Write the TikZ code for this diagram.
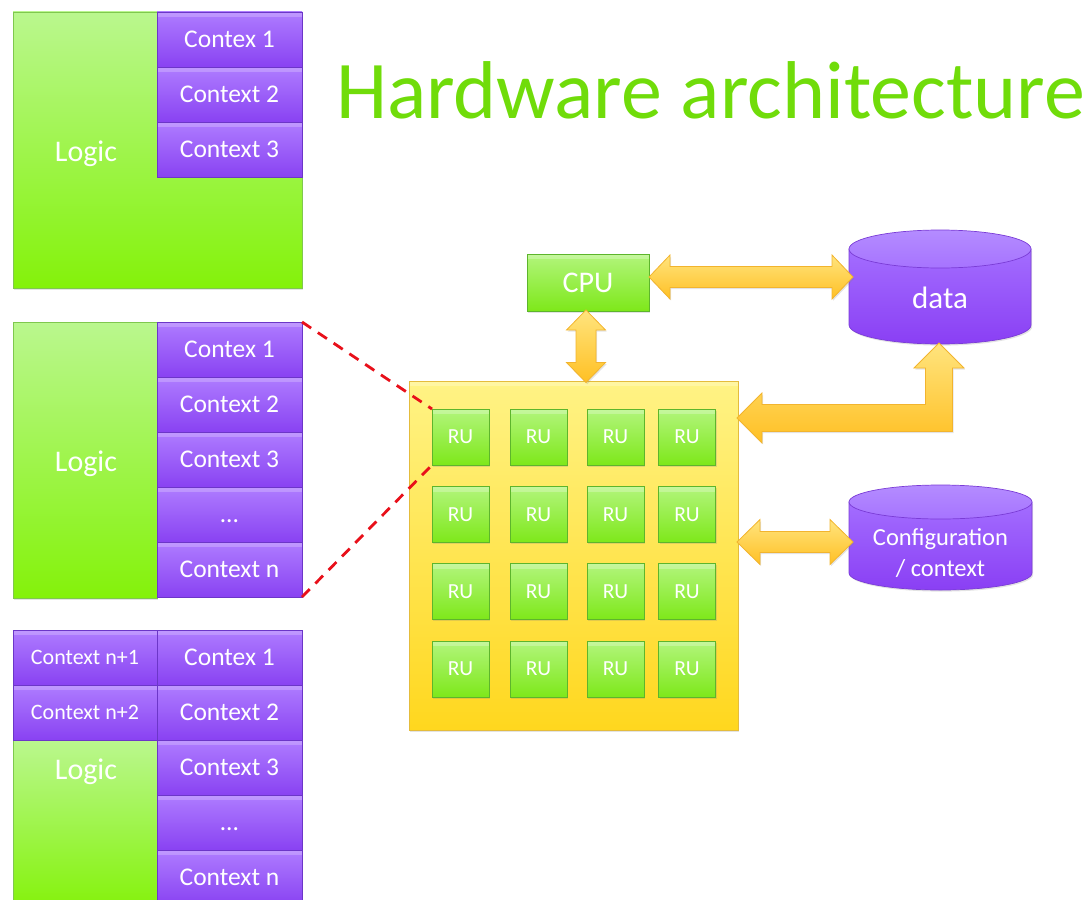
\documentclass[tikz,border=0pt]{standalone}
\usepackage{fontspec}
\setmainfont{Carlito}
\usetikzlibrary{calc,shadows}

\definecolor{grnTop}{HTML}{BAF78E}
\definecolor{grnBot}{HTML}{84F20A}
\definecolor{grnLine}{HTML}{7FC84E}
\definecolor{ruTop}{HTML}{B2F57C}
\definecolor{ruBot}{HTML}{7EE81A}
\definecolor{ruLine}{HTML}{5DB52C}
\definecolor{purTop}{HTML}{AE7CFF}
\definecolor{purBot}{HTML}{8942F2}
\definecolor{purLine}{HTML}{6C36C8}
\definecolor{yelTop}{HTML}{FFF385}
\definecolor{yelBot}{HTML}{FFD71E}
\definecolor{yelLine}{HTML}{E4BC3C}
\definecolor{arrTop}{HTML}{FFE47E}
\definecolor{arrBot}{HTML}{FFC024}
\definecolor{arrLine}{HTML}{F2B42E}
\definecolor{cylTop}{HTML}{A36DFF}
\definecolor{cylBot}{HTML}{8A3FF4}
\definecolor{cylCap}{HTML}{B48CFF}
\definecolor{cylLine}{HTML}{7A3CD6}
\definecolor{titleGreen}{HTML}{70DC0A}
\definecolor{zoomRed}{HTML}{E8101A}

% cylinder body and cap: centre x, cap-centre y, base-centre y, x radius, y radius
\newcommand{\drumshape}[5]{%
  \path[cylbody] ({#1-#4},#2) -- ({#1-#4},#3)
    .. controls ({#1-#4},{#3+0.5523*#5}) and ({#1-0.5523*#4},{#3+#5}) .. (#1,{#3+#5})
    .. controls ({#1+0.5523*#4},{#3+#5}) and ({#1+#4},{#3+0.5523*#5}) .. ({#1+#4},#3)
    -- ({#1+#4},#2) -- cycle;
  \path[cylcap] (#1,#2) ellipse (#4pt and #5pt);}

% horizontal double block arrow: left tip, right tip, head length, half head, half shaft
\newcommand{\fatharrow}[5]{%
  \draw[fatarrow] (#1) -- ($(#1)+(#3,-#4)$) -- ($(#1)+(#3,-#5)$) -- ($(#2)+(-#3,-#5)$)
    -- ($(#2)+(-#3,-#4)$) -- (#2) -- ($(#2)+(-#3,#4)$) -- ($(#2)+(-#3,#5)$)
    -- ($(#1)+(#3,#5)$) -- ($(#1)+(#3,#4)$) -- cycle;}

% vertical double block arrow: top tip, bottom tip, head length, half head, half shaft
\newcommand{\fatvarrow}[5]{%
  \draw[fatarrow] (#1) -- ($(#1)+(#4,#3)$) -- ($(#1)+(#5,#3)$) -- ($(#2)+(#5,-#3)$)
    -- ($(#2)+(#4,-#3)$) -- (#2) -- ($(#2)+(-#4,-#3)$) -- ($(#2)+(-#5,-#3)$)
    -- ($(#1)+(-#5,#3)$) -- ($(#1)+(-#4,#3)$) -- cycle;}

\begin{document}
\begin{tikzpicture}[x=1pt,y=-1pt,
  softshadow/.style={drop shadow={opacity=0.22,shadow xshift=1.2pt,shadow yshift=-1.6pt}},
  bevel/.style={path picture={\fill[white,opacity=#1]
      (path picture bounding box.north west) rectangle ([yshift=-5pt]path picture bounding box.north east);}},
  bevel/.default=0.22,
  plain/.style={inner sep=0pt,outer sep=0pt,text=white},
  ctxbox/.style={plain,rectangle,minimum width=145pt,minimum height=55pt,
    top color=purTop,bottom color=purBot,draw=purLine,line width=0.6pt,bevel,
    font=\fontsize{25.5}{30}\selectfont,text height=16pt,text depth=0pt},
  ctxsmall/.style={ctxbox,minimum width=144pt,font=\fontsize{22}{26}\selectfont,text height=14pt},
  logicbox/.style={plain,rectangle,top color=grnTop,bottom color=grnBot,draw=grnLine,
    line width=0.6pt,softshadow},
  logictext/.style={plain,anchor=base,font=\fontsize{30}{36}\selectfont},
  rubox/.style={plain,rectangle,minimum width=57pt,minimum height=56pt,
    top color=ruTop,bottom color=ruBot,draw=ruLine,line width=0.6pt,bevel=0.25,softshadow,
    font=\fontsize{21.5}{25}\selectfont,text height=13.8pt,text depth=0pt},
  cpubox/.style={rubox,minimum width=122pt,minimum height=57pt,
    font=\fontsize{30}{36}\selectfont,text height=19.3pt},
  arraybox/.style={plain,rectangle,top color=yelTop,bottom color=yelBot,draw=yelLine,
    line width=0.8pt,softshadow,bevel=0.25},
  hitbox/.style={inner sep=0pt,outer sep=0pt},
  cylbody/.style={top color=cylTop,bottom color=cylBot,draw=cylLine,line width=0.7pt,softshadow},
  cylcap/.style={top color=cylCap,bottom color=cylTop!80!cylCap,draw=cylLine,line width=0.7pt},
  cyltext/.style={plain,anchor=base},
  fatarrow/.style={top color=arrTop,bottom color=arrBot,draw=arrLine,line width=0.8pt,
    line join=miter,softshadow},
  zoomline/.style={draw=zoomRed,line width=2.8pt,dash pattern=on 11pt off 8pt}]

\useasboundingbox (0,0) rectangle (1091,899);
\clip (0,0) rectangle (1091,899);

% ---- title
\node[plain,anchor=base west,text=titleGreen,font=\fontsize{82}{98}\selectfont]
  (title) at (336,118) {Hardware architecture};

% ---- first fabric: logic with three contexts
\node[logicbox,minimum width=289pt,minimum height=276pt] (logA) at (157.5,150) {};
\node[ctxbox] (a1) at (229.5,39.5)  {Contex 1};
\node[ctxbox] (a2) at (229.5,94.5)  {Context 2};
\node[ctxbox] (a3) at (229.5,149.5) {Context 3};
\node[logictext] (logAtext) at (86,161) {Logic};

% ---- second fabric: logic with n contexts
\node[logicbox,minimum width=144pt,minimum height=276pt] (logB) at (85,460) {};
\node[ctxbox] (b1) at (229.5,349.5) {Contex 1};
\node[ctxbox] (b2) at (229.5,404.5) {Context 2};
\node[ctxbox] (b3) at (229.5,459.5) {Context 3};
\node[ctxbox] (b4) at (229.5,514.5) {…};
\node[ctxbox] (b5) at (229.5,569.5) {Context n};
\node[logictext] (logBtext) at (86,471) {Logic};

% ---- third fabric: contexts also stored in the logic area
\node[logicbox,minimum width=144pt,minimum height=170pt] (logC) at (85,825) {};
\node[ctxsmall] (d1) at (85,657.5) {Context n+1};
\node[ctxsmall] (d2) at (85,712.5) {Context n+2};
\node[ctxbox] (c1) at (229.5,657.5) {Contex 1};
\node[ctxbox] (c2) at (229.5,712.5) {Context 2};
\node[ctxbox] (c3) at (229.5,767.5) {Context 3};
\node[ctxbox] (c4) at (229.5,822.5) {…};
\node[ctxbox] (c5) at (229.5,877.5) {Context n};
\node[logictext] (logCtext) at (86,779) {Logic};

% ---- reconfigurable array
\node[arraybox,minimum width=329pt,minimum height=349pt] (arr) at (573.5,555.5) {};
\foreach \cx [count=\i] in {460.5,538.5,615.5,687}
  \foreach \cy [count=\j] in {437,514.5,591.5,669}
    \node[rubox] (ru\j\i) at (\cx,\cy) {RU};

% ---- CPU
\node[cpubox] (cpu) at (588,282.5) {CPU};

% ---- storage cylinders
\drumshape{940}{249}{325}{91}{19}
\node[hitbox,minimum width=182pt,minimum height=114pt] (data) at (940,287) {};
\node[cyltext,font=\fontsize{31}{37}\selectfont] (datatext) at (940,308) {data};

\drumshape{940.5}{502}{573}{91.5}{17}
\node[hitbox,minimum width=183pt,minimum height=105pt] (cfg) at (940.5,537.5) {};
\node[cyltext,font=\fontsize{24.5}{30}\selectfont] (cfgtext1) at (940.5,545.5) {Configuration};
\node[cyltext,font=\fontsize{24.5}{30}\selectfont] (cfgtext2) at (940.5,576.5) {/ context};

% ---- block arrows
\coordinate (h1) at ($(cpu.east)+(0,-5.5)$);
\coordinate (h2) at ($(h1 -| data.west)+(4,0)$);
\fatharrow{h1}{h2}{21}{22}{10.5}

\coordinate (v1) at ($(cpu.south)+(-2,-1)$);
\coordinate (v2) at ($(v1 |- arr.north)+(0,1.5)$);
\fatvarrow{v1}{v2}{20}{19.5}{10}

\coordinate (k1) at ($(arr.east |- cfg.center)+(-1,4.5)$);
\coordinate (k2) at ($(k1 -| cfg.west)+(4,0)$);
\fatharrow{k1}{k2}{23}{22.5}{10.5}

\coordinate (e1) at ($(arr.north east)+(-1,37)$);
\coordinate (e2) at ($(data.south)+(-1,-1)$);
\draw[fatarrow] (e1) -- ($(e1)+(25,-25)$) -- ($(e1)+(25,-13.5)$)
  -- ($(e2 |- e1)+(-13.5,-13.5)$) -- ($(e2)+(-13.5,25)$) -- ($(e2)+(-25,25)$)
  -- (e2) -- ($(e2)+(25,25)$) -- ($(e2)+(13.5,25)$)
  -- ($(e2 |- e1)+(13.5,13.5)$) -- ($(e1)+(25,13.5)$) -- ($(e1)+(25,25)$) -- cycle;

% ---- zoom lines from the context column to one RU
\draw[zoomline] (b1.north east) -- (ru11.north west);
\draw[zoomline] (b5.south east) -- (ru11.south west);

\end{tikzpicture}
\end{document}
